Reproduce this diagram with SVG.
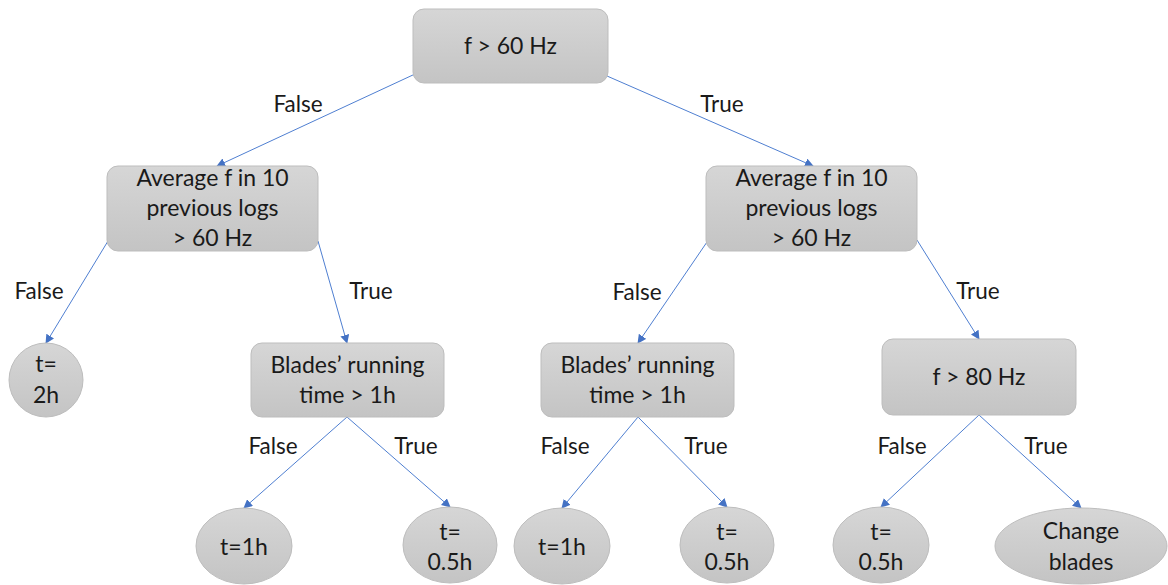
<svg xmlns="http://www.w3.org/2000/svg" width="1168" height="585" viewBox="0 0 1168 585">
  <defs>
    <linearGradient id="nodeFill" x1="0" y1="0" x2="0" y2="1">
      <stop offset="0" stop-color="#d6d6d6"/>
      <stop offset="1" stop-color="#c4c4c4"/>
    </linearGradient>
    <marker id="arrow" viewBox="0 0 10 10" refX="9" refY="5" markerWidth="9" markerHeight="9" markerUnits="userSpaceOnUse" orient="auto">
      <path d="M0,0 L10,5 L0,10 z" fill="#4472c4"/>
    </marker>
  </defs>
  <style>
    .node { fill: url(#nodeFill); stroke: #bdbdbd; stroke-width: 1; }
    .lbl { font-family: Lato, "Liberation Sans", sans-serif; font-size: 23px; fill: #1a1a1a; text-anchor: middle; }
    .edge { stroke: #4f7fd1; stroke-width: 1; fill: none; marker-end: url(#arrow); }
    .elbl { font-family: Lato, "Liberation Sans", sans-serif; font-size: 22.5px; fill: #1a1a1a; text-anchor: middle; }
  </style>
  <rect width="1168" height="585" fill="#ffffff"/>

  <!-- connectors -->
  <g id="connectors">
    <line class="edge" x1="415" y1="74" x2="217" y2="166"/>
    <line class="edge" x1="607" y1="76" x2="813" y2="166"/>
    <line class="edge" x1="108" y1="241" x2="46" y2="343"/>
    <line class="edge" x1="318" y1="241" x2="347" y2="343"/>
    <line class="edge" x1="707" y1="242" x2="638" y2="343"/>
    <line class="edge" x1="917" y1="240" x2="979" y2="339"/>
    <line class="edge" x1="347" y1="417" x2="244" y2="508"/>
    <line class="edge" x1="347" y1="417" x2="450" y2="507"/>
    <line class="edge" x1="638" y1="417" x2="562" y2="508"/>
    <line class="edge" x1="638" y1="417" x2="727" y2="507"/>
    <line class="edge" x1="979" y1="415" x2="881" y2="507"/>
    <line class="edge" x1="979" y1="415" x2="1081" y2="508"/>
    <text class="elbl" x="298" y="112">False</text>
    <text class="elbl" x="722" y="112">True</text>
    <text class="elbl" x="39" y="299">False</text>
    <text class="elbl" x="371" y="299">True</text>
    <text class="elbl" x="637" y="300">False</text>
    <text class="elbl" x="978" y="299">True</text>
    <text class="elbl" x="273" y="454">False</text>
    <text class="elbl" x="416" y="454">True</text>
    <text class="elbl" x="565" y="454">False</text>
    <text class="elbl" x="706" y="454">True</text>
    <text class="elbl" x="902" y="454">False</text>
    <text class="elbl" x="1046" y="454">True</text>
  </g>

  <!-- decision nodes -->
  <g id="root">
    <rect class="node" x="413" y="9" width="195" height="74" rx="11"/>
    <text class="lbl" x="510.5" y="54">f &gt; 60 Hz</text>
  </g>
  <g id="avg-left">
    <rect class="node" x="107" y="166" width="211" height="85" rx="11"/>
    <text class="lbl" x="212.5" y="186">Average f in 10</text>
    <text class="lbl" x="212.5" y="216">previous logs</text>
    <text class="lbl" x="212.5" y="246">&gt; 60 Hz</text>
  </g>
  <g id="avg-right">
    <rect class="node" x="706" y="166" width="211" height="85" rx="11"/>
    <text class="lbl" x="811.5" y="186">Average f in 10</text>
    <text class="lbl" x="811.5" y="216">previous logs</text>
    <text class="lbl" x="811.5" y="246">&gt; 60 Hz</text>
  </g>
  <g id="blades-left">
    <rect class="node" x="251" y="343" width="193" height="74" rx="11"/>
    <text class="lbl" x="347.5" y="373">Blades’ running</text>
    <text class="lbl" x="347.5" y="403">time &gt; 1h</text>
  </g>
  <g id="blades-right">
    <rect class="node" x="541" y="343" width="193" height="74" rx="11"/>
    <text class="lbl" x="637.5" y="373">Blades’ running</text>
    <text class="lbl" x="637.5" y="403">time &gt; 1h</text>
  </g>
  <g id="freq80">
    <rect class="node" x="882" y="339" width="194" height="76" rx="11"/>
    <text class="lbl" x="979" y="385">f &gt; 80 Hz</text>
  </g>

  <!-- outcome nodes -->
  <g id="t-2h">
    <ellipse class="node" cx="46" cy="380" rx="37" ry="37"/>
    <text class="lbl" x="46" y="372">t=</text>
    <text class="lbl" x="46" y="403">2h</text>
  </g>
  <g id="t-1h-a">
    <ellipse class="node" cx="244" cy="546" rx="48" ry="38"/>
    <text class="lbl" x="244" y="555">t=1h</text>
  </g>
  <g id="t-05h-a">
    <ellipse class="node" cx="450" cy="545" rx="47" ry="38"/>
    <text class="lbl" x="450" y="540">t=</text>
    <text class="lbl" x="450" y="570">0.5h</text>
  </g>
  <g id="t-1h-b">
    <ellipse class="node" cx="562" cy="546" rx="48" ry="38"/>
    <text class="lbl" x="562" y="555">t=1h</text>
  </g>
  <g id="t-05h-b">
    <ellipse class="node" cx="727" cy="545" rx="47" ry="38"/>
    <text class="lbl" x="727" y="540">t=</text>
    <text class="lbl" x="727" y="570">0.5h</text>
  </g>
  <g id="t-05h-c">
    <ellipse class="node" cx="881" cy="545" rx="48" ry="38"/>
    <text class="lbl" x="881" y="540">t=</text>
    <text class="lbl" x="881" y="570">0.5h</text>
  </g>
  <g id="change-blades">
    <ellipse class="node" cx="1081" cy="546" rx="86" ry="38"/>
    <text class="lbl" x="1081" y="539">Change</text>
    <text class="lbl" x="1081" y="570">blades</text>
  </g>
</svg>
